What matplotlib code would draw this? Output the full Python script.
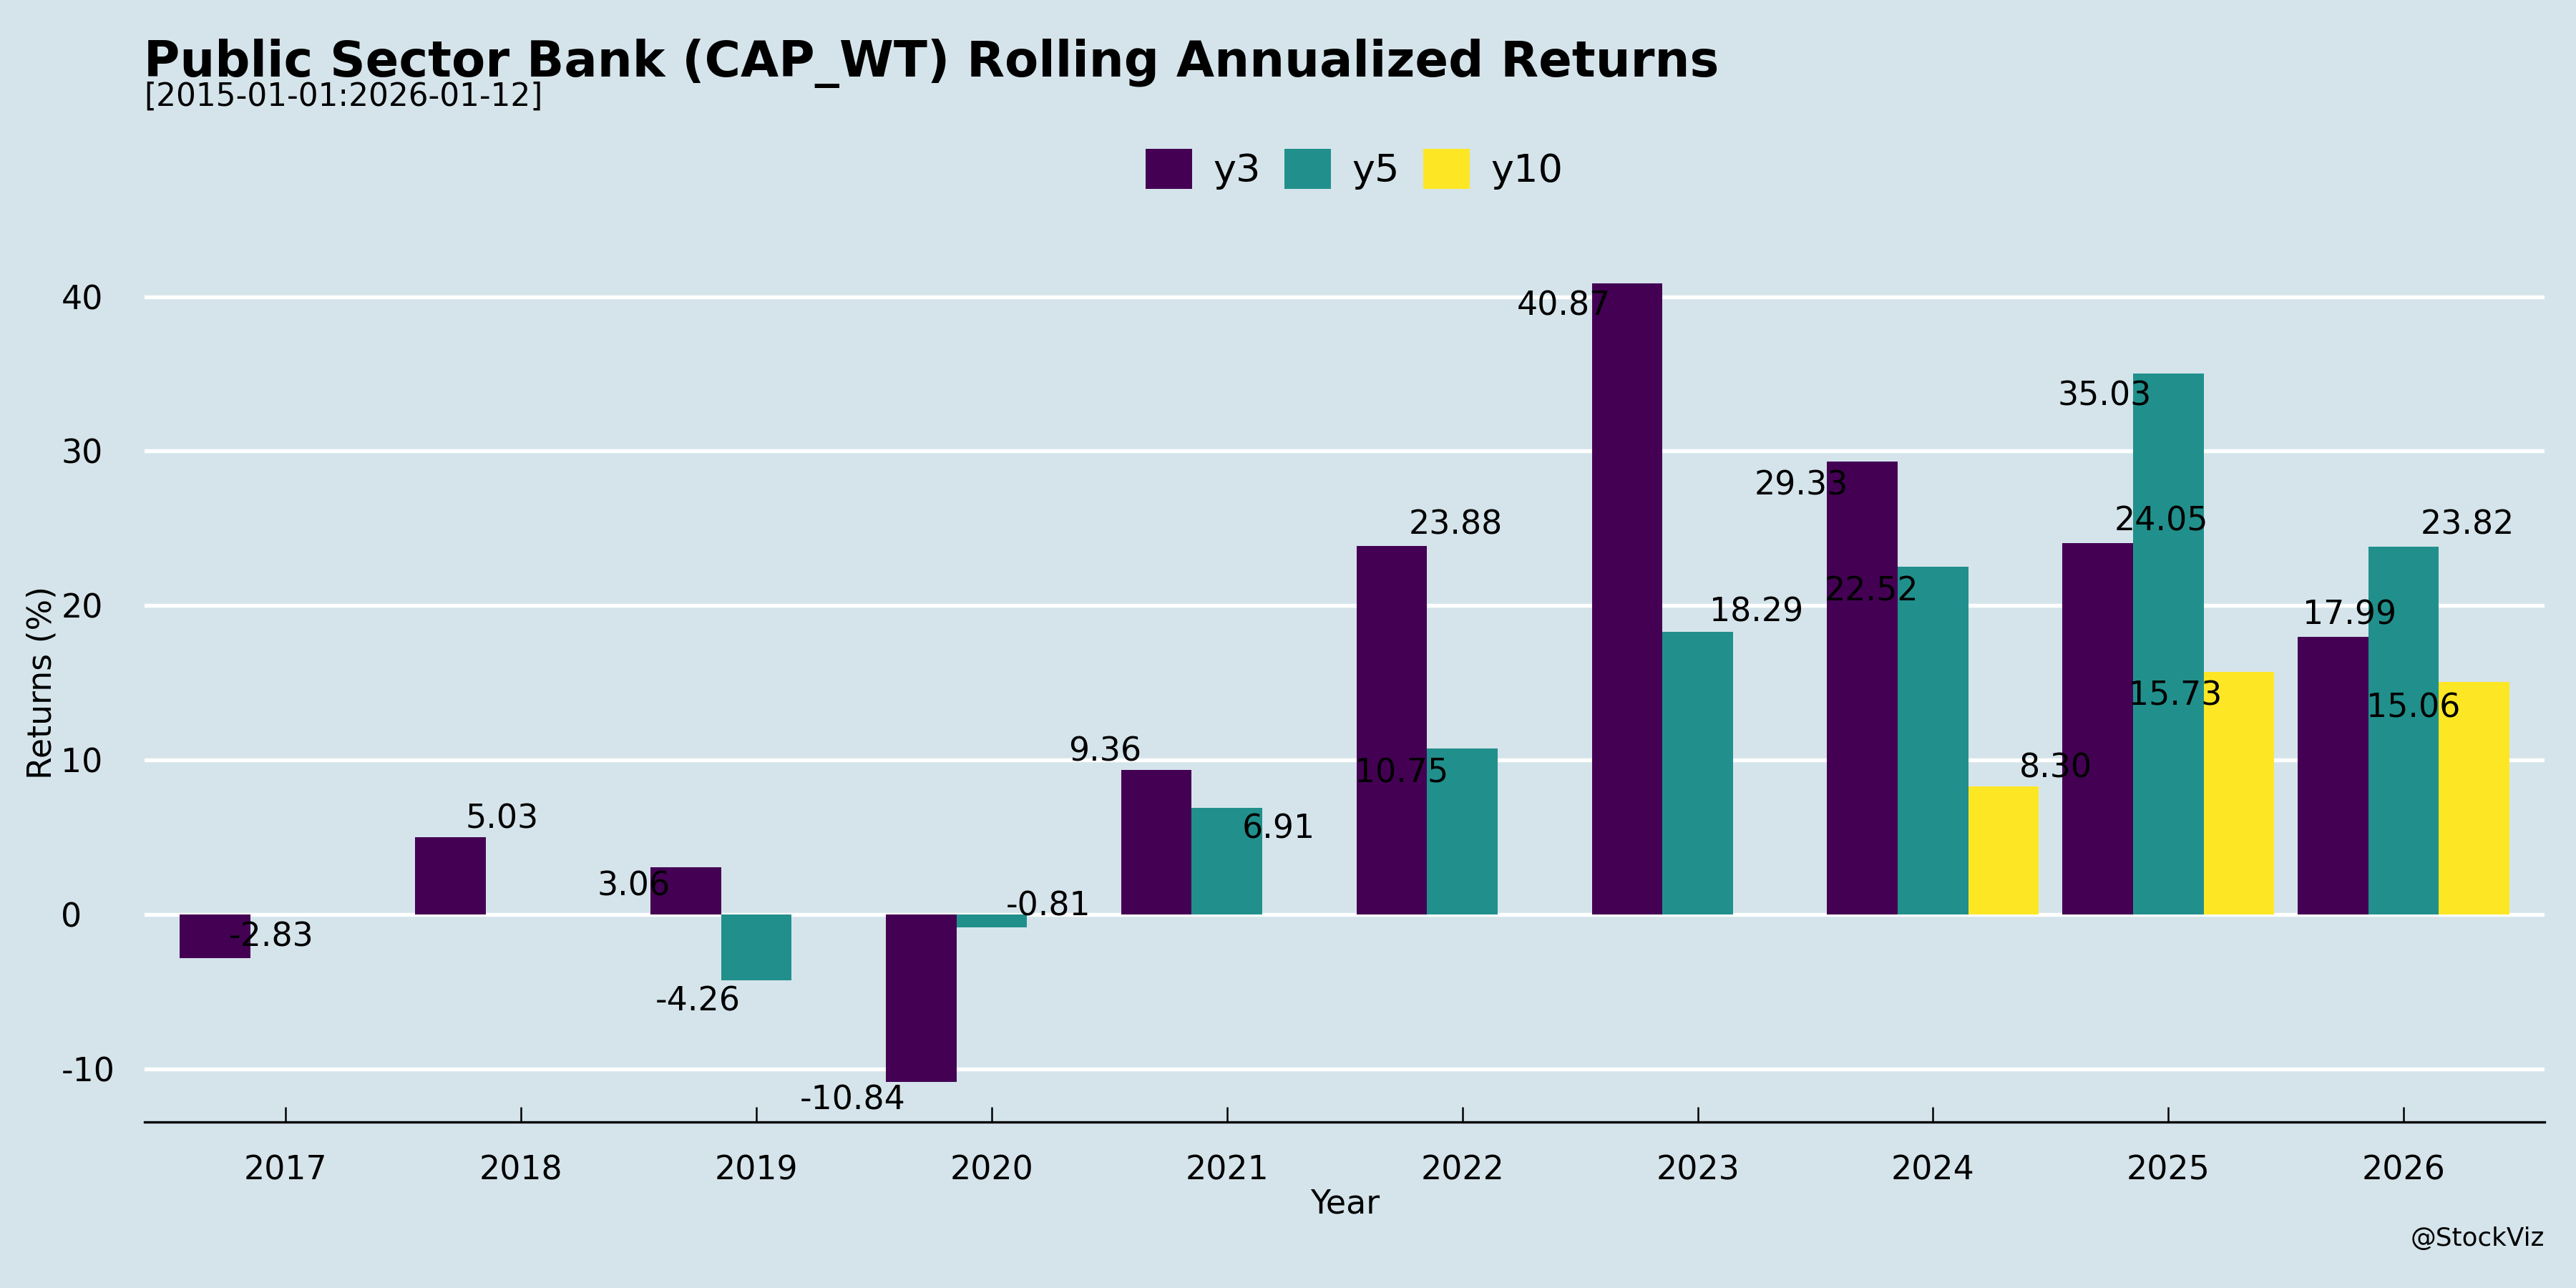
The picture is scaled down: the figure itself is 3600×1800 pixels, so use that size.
import matplotlib
matplotlib.use("Agg")
import matplotlib.pyplot as plt
import numpy as np
from matplotlib.patches import Patch

years = ["2017", "2018", "2019", "2020", "2021", "2022", "2023", "2024", "2025", "2026"]
series = ["y3", "y5", "y10"]
y3 = [-2.83, 5.03, 3.06, -10.84, 9.36, 23.88, 40.87, 29.33, 24.05, 17.99]
y5 = [None, None, -4.26, -0.81, 6.91, 10.75, 18.29, 22.52, 35.03, 23.82]
y10 = [None, None, None, None, None, None, None, 8.30, 15.73, 15.06]
colors = ["#440154", "#21908C", "#FDE725"]

# label jitter (style): horizontal offset in bar units, vertical offset in value units
jit_dx = {
    "y3": [0.24, 0.22, -0.22, -0.29, -0.22, 0.27, -0.27, -0.26, 0.27, 0.07],
    "y5": [0, 0, -0.25, 0.24, 0.22, -0.26, 0.25, -0.26, -0.27, 0.27],
    "y10": [0, 0, 0, 0, 0, 0, 0, 0.22, -0.27, -0.26],
}
jit_dy = {
    "y3": [1.34, 1.14, -1.26, -1.18, 1.17, 1.33, -1.5, -1.58, 1.38, 1.38],
    "y5": [0, 0, -1.38, 1.34, -1.38, -1.6, 1.28, -1.6, -1.5, 1.38],
    "y10": [0, 0, 0, 0, 0, 0, 0, 1.17, -1.6, -1.7],
}

bg = "#D5E4EB"
plt.rcParams["font.family"] = ["DejaVu Sans"]
fig = plt.figure(figsize=(12, 6), dpi=300, facecolor=bg)
ax = fig.add_axes([0.0561, 0.1288, 0.9879 - 0.0561, 0.8112 - 0.1288])
ax.set_facecolor(bg)

x = np.arange(len(years))
w = 0.3
data = {"y3": y3, "y5": y5, "y10": y10}
for i, (name, col) in enumerate(zip(series, colors)):
    vals = data[name]
    for j, v in enumerate(vals):
        if v is None:
            continue
        xc = x[j] + (i - 1) * w
        ax.bar(xc, v, width=w, color=col, zorder=3, linewidth=0)
        ax.text(xc + jit_dx[name][j], v + jit_dy[name][j], f"{v:.2f}",
                ha="center", va="center", fontsize=11, zorder=4, color="black")

ax.set_xlim(-0.6, len(years) - 0.4)
ax.set_ylim(-13.43, 43.46)
ax.set_xticks(x)
ax.set_xticklabels(years)
ax.set_yticks([-10, 0, 10, 20, 30, 40])
ax.set_yticklabels(["-10", "0", "10", "20", "30", "40"])
ax.grid(axis="y", color="white", linewidth=1.3, zorder=1)
ax.grid(axis="x", visible=False)
for s in ["top", "right", "left"]:
    ax.spines[s].set_visible(False)
ax.spines["bottom"].set_linewidth(0.8)
ax.spines["bottom"].set_color("black")
ax.tick_params(axis="x", direction="in", length=5, width=0.6, pad=11, labelsize=11)
ax.tick_params(axis="y", length=0, pad=28, labelsize=11)
for lbl in ax.get_yticklabels():
    lbl.set_horizontalalignment("left")

ax.set_xlabel("Year", fontsize=11)
ax.xaxis.set_label_coords(0.5, -0.075)
ax.set_ylabel("Returns (%)", fontsize=11)
ax.yaxis.set_label_coords(-0.036, 0.5)

handles = [Patch(facecolor=c, edgecolor="none") for c in colors]
leg = ax.legend(handles, series, loc="center", bbox_to_anchor=(0.504, 1.084), ncol=3,
                frameon=False, fontsize=13, handlelength=1.2, handleheight=1.2,
                handletextpad=0.55, columnspacing=0.6)

fig.text(0.0558, 0.9406, "Public Sector Bank (CAP_WT) Rolling Annualized Returns",
         fontsize=16.5, fontweight="bold", ha="left", va="baseline")
fig.text(0.0558, 0.918, "[2015-01-01:2026-01-12]", fontsize=10.5, ha="left", va="baseline")
fig.text(0.9879, 0.033, "@StockViz", fontsize=8.6, ha="right", va="baseline")

fig.savefig("out.png", dpi=300, facecolor=bg)
